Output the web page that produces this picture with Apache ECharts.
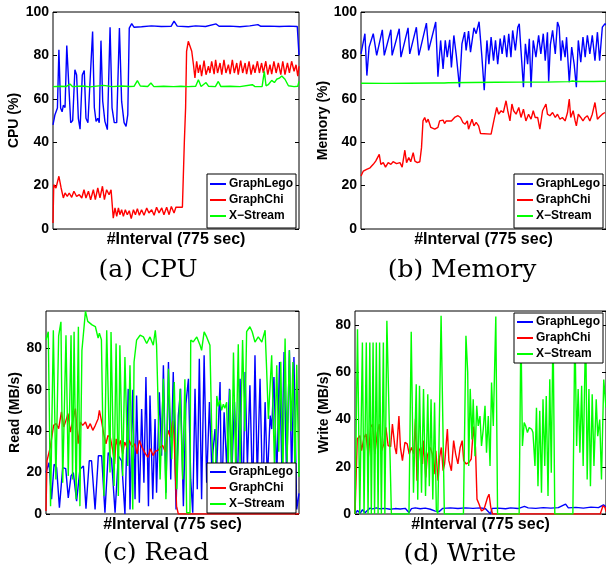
<!DOCTYPE html>
<html>
<head>
<meta charset="utf-8">
<script src="https://cdn.jsdelivr.net/npm/echarts@6/dist/echarts.min.js"></script>
<style>
  html, body { margin: 0; padding: 0; background: #fff; }
  #chart { width: 606px; height: 565px; }
</style>
</head>
<body>
<div id="chart"></div>
<script>
// series names / colours
const names = ['GraphLego', 'GraphChi', 'X\u2212Stream']
const colors = ['#0000ff', '#ff0000', '#00ff00']

// x = position along the run (0..100 % of the 775 sec intervals), y = value
// (a) CPU (%)
const cpuLego = [[0,48],[0.8,52.7],[1.8,55.8],[2.4,82.6],[3.1,55.8],[3.7,54],[4.2,57],[4.9,56],[5.6,84.5],[7.2,49],[8.0,50],[8.9,73.4],[9.6,71],[10.3,51],[11.0,46],[11.9,71],[12.7,73],[13.4,51],[14.2,49],[15.0,49.6],[16.1,91],[16.8,56],[17.5,49.6],[18.2,51],[18.8,49],[19.5,86.8],[20.2,59],[21.1,49.6],[22.1,45.8],[23.2,93],[24.0,55.8],[24.9,49],[25.9,49],[27.0,92.6],[27.9,58.8],[28.9,49],[29.7,47.3],[30.4,52.7],[31.0,92.6],[32.0,94.6],[32.9,93],[36,93.2],[40,93.6],[44,93.3],[48,93.4],[49.2,95.8],[50.5,93.5],[55,93.2],[58,93.6],[62,93.3],[66.3,94.5],[67.5,93.4],[72,93.5],[76,93.2],[80,93.6],[83.3,94.2],[84.5,93.4],[88,93.5],[92,93.3],[96,93.5],[99.3,93.3],[100,80]]
const cpuChi = [[0,2.8],[0.3,20.4],[1.2,18.9],[2.4,24.3],[3.3,18.9],[4.2,14.3],[4.9,16.6],[5.8,15],[6.6,16.6],[7.6,14.6],[8.5,17.4],[9.6,15],[10.7,15.8],[11.7,14.3],[12.6,18.1],[13.4,14.3],[14.4,17.4],[15.3,13.5],[16.4,18.1],[17.2,13.5],[18.2,18.9],[19.1,14.3],[20.1,19.7],[20.9,13.5],[21.8,18.1],[22.8,15.8],[23.6,18.1],[24.5,5],[25.2,9.7],[25.9,5.8],[26.6,9.7],[27.2,6.6],[27.9,8.9],[28.6,5.8],[29.4,8.9],[30.2,6.6],[31.0,8.4],[31.8,4.8],[32.7,8.9],[33.5,6.6],[34.3,9.4],[35.1,6.3],[36.0,8.9],[37.0,6.3],[38.1,9.7],[39.0,7.4],[40.1,8.9],[41.1,6.3],[42.1,10],[43.1,7.4],[44.2,9.7],[45.1,6.6],[46.2,10],[47.2,6.6],[48.1,10.4],[49.2,7.4],[50.0,10.1],[52.6,10],[53.4,40.4],[53.9,55.8],[54.3,81.9],[55.0,86.5],[55.7,87.2],[56.4,81.9],[57.1,75.7],[57.7,69.6],[58.4,77.3],[59.1,71.9],[59.8,75.7],[60.4,70.4],[61.4,77.6],[62.2,71.1],[63.2,75],[63.8,71.9],[64.5,77.3],[65.5,71.4],[66.1,78],[66.9,71.9],[67.9,76.5],[68.6,71.1],[69.5,78],[70.3,71.9],[71.3,75.7],[72.0,71.4],[72.9,78],[73.7,71.9],[74.7,76.5],[75.3,71.1],[76.3,77.6],[77.1,71.9],[78.1,76.5],[78.7,71.4],[79.7,77.3],[80.5,71.1],[81.4,75.7],[82.1,71.9],[83.1,77.3],[83.9,71.9],[84.8,76.5],[85.5,71.9],[86.5,77.3],[87.3,71.1],[88.2,75.7],[88.9,71.4],[89.8,77.3],[90.7,71.9],[91.6,76.5],[92.6,71.1],[93.4,77.3],[94.3,71.1],[95.3,76.5],[96.1,71.9],[97.0,77.3],[98.0,72.7],[98.8,75.7],[99.5,70.4],[100,75]]
const cpuXs = [[0,65.6],[3,65.8],[5.5,65.7],[6.9,66.8],[8,65.6],[12,65.9],[15,65.5],[20.5,66.2],[24,65.6],[28,65.9],[31,65.7],[33,65.8],[34.3,68.4],[35.5,65.9],[38.5,65.7],[39.8,67.3],[41,65.6],[45,65.8],[49,65.6],[52,65.8],[55,65.6],[58,65.8],[59.1,68.8],[60.2,65.7],[62.2,67.5],[63.2,65.8],[66,65.6],[67.2,68],[68.2,65.7],[72,65.8],[76,65.6],[81,66.5],[82,65.7],[85,65.6],[85.9,72.6],[86.6,66],[87.5,66.5],[88.9,68.5],[90,67.5],[90.9,69],[92,69.5],[93,70.5],[94.3,69],[95.7,66],[98,65.6],[99.5,65.8],[100,68]]

// (b) Memory (%)
const memLego = [[0,80.7],[1.6,90],[2.4,70.7],[3.3,83.8],[5.0,90],[6.4,80],[8.7,91.8],[9.5,80],[12.2,91.8],[12.7,80],[15.6,92.3],[16.3,79.2],[19.2,92.7],[19.9,80.7],[22.6,93],[23.6,80],[26.7,94.9],[27.6,82.3],[30.5,95.4],[31.4,70.2],[32.5,86.9],[33.5,73.8],[34.4,86.9],[35.2,79.2],[36.2,87.2],[36.9,74.5],[37.9,89.2],[38.9,80],[40.2,65.3],[41.2,85.3],[42.3,90.7],[42.9,82.3],[43.9,91.2],[44.7,81.5],[46.1,92.7],[47.0,90],[48.2,95.5],[49.3,80],[50.3,64],[51.4,86.9],[52.2,76],[53.1,88.4],[54.1,77.6],[54.9,86.9],[55.8,76],[56.8,87.7],[57.6,80.7],[58.5,89.2],[59.5,79.2],[60.3,90],[61.2,79.2],[61.9,91.5],[63,82.3],[64,93],[64.6,94.6],[65.3,82.3],[66.3,65.3],[67.1,85.3],[68,76],[68.7,87.7],[69.4,65.3],[70.3,86.9],[71.4,79.2],[72.5,89.2],[73.4,80.7],[74.4,90],[75.2,77.6],[76.1,90.7],[76.6,68],[77.3,85],[78.2,91.5],[79.3,80.7],[80.2,95.4],[80.9,93],[81.6,77.6],[82.2,86.9],[83.3,79.2],[83.9,88.4],[85,67.6],[86,83.8],[87,76],[87.9,65.3],[88.7,86.9],[89.7,76.9],[90.6,88.4],[91.5,79.2],[92.4,89.2],[93.4,80.7],[94.4,89.2],[95.5,77.6],[96.5,90.7],[97.4,77.6],[98.5,93],[99.6,94.6],[100,94]]
const memChi = [[0,24.4],[0.95,26.7],[2.3,27.5],[3.7,28.2],[5.0,29.8],[6.0,31.3],[6.8,31.6],[7.45,34.4],[8.1,29.8],[9.1,30.6],[10.0,28.5],[11.1,30.6],[12.2,29.8],[13.1,31],[14.5,30.1],[15.9,30.6],[16.8,28.5],[17.9,36.3],[18.6,30.6],[19.5,32.9],[20.3,31],[21.3,35.2],[22.0,31.3],[23.0,30.6],[24.0,31],[24.7,37.5],[25.3,49.8],[26.0,51.4],[26.7,49.1],[27.4,50.6],[28.5,46.8],[30.1,46],[31.4,46.8],[32.1,49.8],[32.8,49.1],[33.5,50.2],[34.1,48.6],[34.8,49.8],[35.5,49.1],[36.9,49.8],[38.2,51.4],[39.6,52.2],[40.6,51.4],[41.6,49.1],[42.5,48.3],[43.4,49.8],[43.9,46],[44.7,45.2],[45.3,50.6],[46.1,47.5],[47.0,49.1],[48.0,47.5],[48.8,44],[53.1,43.7],[54.5,51.4],[55.4,56],[56.2,52.9],[57.2,54.5],[58.1,53.7],[59.2,59.1],[59.9,54.5],[60.8,49.8],[61.6,57.6],[62.3,54.5],[63.3,52.9],[64.4,56],[65.3,51.4],[66.3,55.2],[67.3,49.8],[68.4,52.9],[69.4,50.6],[70.3,54.5],[71.1,51.4],[72.1,51.4],[73.0,46],[74.1,54.5],[75.5,57.6],[76.1,52.9],[77.1,52.2],[78.2,53.7],[79.3,51.4],[80.2,52.9],[81.2,50.6],[82.2,51.4],[83.3,49.8],[84.3,53.7],[85.0,59.9],[85.6,51.4],[86.6,54.5],[87.4,49.8],[87.9,47.5],[88.7,52.9],[89.7,51.4],[90.6,49.8],[91.5,51.4],[92.4,52.2],[93.4,49.8],[94.4,52.9],[95.5,58.3],[96.5,50.6],[97.4,51.7],[98.5,52.9],[99.6,53.7]]
const memXs = [[0,67.2],[10,67.1],[20,67.2],[30,67.3],[34,67.3],[34.8,68],[35.6,67.4],[45,67.5],[55,67.6],[65,67.7],[75,67.7],[85,67.9],[86.3,68.2],[87,69],[87.8,68],[95,68],[100,68.1]]

// (c) Read (MB/s)
const readLego = [[0,20],[1.2,24.8],[2.2,7.1],[3.2,24],[4.2,22.4],[5.3,3],[6.6,22.4],[7.8,21.9],[8.8,7.8],[9.9,18.4],[10.8,20],[12.1,6.2],[13.4,21.6],[14.8,23.2],[15.8,2.5],[17.1,25.7],[18.0,25.7],[19.4,2.2],[20.7,28.1],[22.0,28.1],[23.3,0.6],[24.6,29.7],[25.9,26.5],[27.3,0.6],[28.6,28.1],[29.9,25.7],[31.2,0],[32.5,60.4],[33.2,2.2],[34.3,60],[35.2,7.1],[35.8,57.2],[36.9,5.4],[37.8,50.7],[38.7,15.1],[39.5,66.1],[40.5,3.8],[41.1,57.2],[42.2,7.1],[43.1,45.9],[43.7,10.3],[44.8,58.8],[45.7,28.1],[46.4,71.8],[47.4,10.3],[48.4,73.4],[49.3,16.7],[50.3,68.5],[51.4,2.2],[52.3,47.5],[53.2,60.4],[54.3,3.8],[55.3,53.2],[56.3,65.3],[57.2,16.7],[58.0,0.6],[58.9,60.4],[59.8,11.9],[60.6,75],[61.5,7.1],[62.5,76.6],[63.5,15.1],[64.6,54],[65.5,23.2],[66.8,41],[67.5,23.2],[68.8,63.7],[69.4,2.2],[70.4,49.1],[71.4,23.2],[72.5,60.4],[73.4,18.4],[74.5,54],[75.6,11.9],[76.7,65.3],[77.8,0.6],[78.7,68.5],[79.6,23.2],[80.6,62.1],[81.7,7.1],[82.6,76.6],[83.5,16.7],[84.6,65.3],[85.7,3.8],[86.6,54],[87.5,16.7],[88.6,47.5],[89.2,41],[90.1,66.1],[91.2,16.7],[92.3,73.4],[93.2,23.2],[94.1,78.2],[95.1,16.7],[96.2,79],[97.1,16.7],[98.0,75.8],[99.1,2.2],[100,10]]
const readChi = [[0,1.5],[0.4,25.8],[1.7,32.3],[3.0,42.8],[4.0,43.6],[5.0,41.2],[6.1,49.3],[7.0,42],[7.9,45.2],[8.7,48.5],[9.6,39.6],[10.5,44.4],[11.6,50.9],[12.7,33.9],[13.6,44.4],[14.5,42.8],[15.6,44.4],[16.5,41.2],[17.5,43.6],[18.5,40.4],[19.5,42.8],[20.6,46],[21.1,50],[21.9,45.2],[22.8,38.8],[23.7,33.9],[24.5,37.9],[25.4,37.1],[26.4,30.7],[27.1,24.2],[27.7,36.3],[28.5,32.3],[29.4,35.5],[30.3,29],[31.1,34.7],[32.0,32.3],[32.9,35.5],[34.0,32.3],[35.1,33.9],[36.0,29],[36.9,35.5],[37.9,32.3],[39.3,29],[40.3,27.4],[41.3,31.5],[42.3,28.2],[43.2,30.3],[44.3,30.7],[45.2,32.3],[46.1,33.1],[47.2,29.9],[48.2,40.4],[49.2,37],[50.1,45],[50.6,38],[51.6,3.8],[52.3,0],[100,0]]
const readXs = [[0,84],[0.9,88],[1.8,3.8],[2.9,88.7],[3.9,16.7],[5.0,86],[5.9,92.8],[6.6,15.1],[7.9,86.3],[8.8,18.4],[9.9,86.3],[10.5,16.7],[11.1,88],[11.9,7.1],[12.8,90.4],[13.4,3.8],[14.2,79],[15.6,97.9],[16.5,93],[18.2,91.3],[19.5,90.5],[20.6,84.9],[21.1,87.3],[21.9,84.1],[22.9,8.7],[24.0,88.7],[25.3,20],[25.7,87.9],[26.9,13.5],[27.7,82.3],[28.6,8.7],[29.2,81.5],[30.3,18.4],[31.2,75.8],[32.3,23.2],[33.2,71.8],[34.3,2.2],[34.8,73.4],[35.8,83.9],[37.2,86.3],[38.5,85.5],[39.8,82.3],[41.1,85.5],[42.4,81.5],[43.2,88.7],[43.7,81.5],[45.1,16.7],[46.4,65.3],[47.4,7.1],[48.4,70.1],[49.7,26.5],[50.7,63.7],[51.7,11.9],[53.0,60.4],[54.0,16.7],[54.9,65],[55.6,0.6],[56.9,0.6],[57.2,83.9],[58.2,83.1],[59.6,85.5],[60.9,81.5],[61.5,79],[62.5,87.9],[63.5,85.5],[64.8,81.5],[65.5,40],[66.2,20],[66.8,3],[67.5,57],[68.1,52],[68.8,55],[69.4,50],[70.1,53],[70.7,51],[71.4,54],[72.0,20],[72.7,60],[73.4,16.7],[74.1,78],[75.0,20],[76.0,82],[76.7,23],[77.7,84],[78.6,40],[79.3,88],[80.6,90.4],[81.5,88],[82.6,83],[83.9,85.5],[85.3,83],[86.6,88.7],[87.2,70],[87.9,45.9],[89.2,76.6],[90.3,23.2],[91.2,71.8],[92.0,30],[92.8,73.5],[93.6,16.7],[94.5,84.7],[95.3,25],[96.2,79],[96.9,40],[97.6,73.4],[98.4,18.4],[99.1,72],[100,18]]

// (d) Write (MB/s)
const writeLego = [[0,0],[1,1.5],[2,0.3],[3,1.8],[4,0.5],[5,1.6],[6,2.5],[7,2.2],[8.5,2.6],[10,2.2],[12,2.4],[14,2.0],[16,2.3],[18,2.1],[20,2.4],[21.5,0.6],[22.5,2.3],[24,2.6],[26,2.2],[28,2.5],[30,2.0],[32,1.2],[33.5,1.0],[35,2.4],[38,2.6],[41,2.3],[44,2.6],[47,2.4],[50,2.6],[52,2.2],[54,0],[54.6,2.4],[57,2.5],[60,2.2],[62,2.6],[65,2.3],[67.5,3.2],[69,2.6],[72,2.4],[75,2.7],[78,2.5],[81,2.7],[83.9,4.2],[85,2.6],[88,2.8],[91,2.5],[94,2.9],[97,2.7],[99,3.9],[100,3.0]]
const writeChi = [[0,0],[0.9,31.8],[2.0,33.2],[2.6,26.8],[3.6,32.5],[4.4,33.9],[5.3,24],[6.2,36.7],[7.0,38.1],[7.9,25.4],[8.9,34.6],[9.7,38.1],[10.6,26.8],[11.5,29.7],[12.3,36.7],[13.2,29],[14.2,28.5],[14.9,38.1],[15.9,28.2],[16.5,25.4],[17.5,41.5],[18.1,28.2],[18.9,22.6],[19.9,30.4],[20.8,29.7],[21.6,25.4],[22.5,28.2],[23.4,25.4],[24.1,40.3],[24.7,14.1],[25.5,26.8],[26.2,28.2],[26.9,21.2],[27.4,31.1],[28.2,15.5],[28.8,24.7],[29.5,24.7],[30.0,28.2],[30.8,25.4],[31.5,16.9],[32.2,26.8],[33.1,14.1],[33.7,24],[34.4,28.2],[35.1,18.3],[35.7,21.2],[36.8,36],[37.4,22.6],[38.4,18.3],[39.3,31.1],[40.1,25.4],[41.0,21.2],[41.9,28.2],[42.7,31.1],[43.3,22.6],[44.3,21.2],[45.4,21.9],[46.3,23.3],[47.2,37],[48.0,28.2],[48.6,6.3],[49.4,4.2],[50.4,1.3],[51.4,2],[52.8,7],[53.4,8.4],[54.1,2.8],[54.8,0],[97.7,0],[98.8,3.5],[99.6,2.8],[100,1]]
const writeXs = [[0,0],[1.0,78.3],[1.9,0],[2.95,72.7],[3.6,0],[4.5,72.7],[5.2,0],[5.9,72.7],[6.5,0],[7.2,72.7],[7.8,0],[8.5,72.7],[9.2,0],[9.8,72.7],[10.5,0],[11.3,72.7],[11.9,0],[12.7,81.9],[14.5,0],[21.5,0],[22.4,77.2],[23.3,9],[24.4,55],[25.0,6],[25.7,54.3],[26.5,9],[27.3,52.9],[28.1,7.6],[29.0,50.7],[29.6,11.8],[30.3,48.6],[31.0,6.2],[31.7,47.2],[32.4,1.9],[33.0,0],[33.6,0],[34.3,84],[35.6,0],[43.2,0],[44.2,75.5],[44.9,60],[45.3,20.3],[45.9,53],[46.6,31.6],[47.1,48.6],[47.8,24.5],[48.5,45.8],[49.1,37.3],[49.8,41.5],[50.4,28.8],[51.1,35.9],[51.8,45.8],[52.4,26],[53.1,41.5],[53.8,20.3],[54.4,55.7],[55.1,37.3],[56.1,83.7],[56.8,0],[65.4,0],[66.1,80],[66.7,28.8],[67.4,38.7],[68,37.3],[68.7,34.5],[69.4,36.6],[70.4,35.9],[70.9,34.5],[71.7,20.3],[72.3,45],[72.9,11.8],[73.6,43.7],[74.3,9],[74.9,48.6],[75.6,20.3],[76.2,50],[76.9,7.6],[77.6,57.1],[78.2,17.5],[78.9,80],[79.6,0],[86.8,0],[87.6,80],[88.3,28.8],[88.9,52.9],[89.6,26],[90.3,54.3],[90.9,20.3],[91.9,80],[92.5,14.6],[93.2,52.9],[93.8,11.8],[94.5,50.7],[95.2,20.3],[96.1,48.6],[96.7,33],[97.5,40],[98.2,14.6],[99.1,57],[100,45]]

// one entry per subplot
const panels = [
  { box: [53, 12, 246, 217], yMax: 100, yName: 'CPU (%)', yGap: 32, cap: '(a) CPU', capAt: [148, 270],
    legendAt: [207, 174, 1], series: [cpuLego, cpuChi, cpuXs] },
  { box: [361, 12, 246, 217], yMax: 100, yName: 'Memory (%)', yGap: 31, cap: '(b) Memory', capAt: [462, 270],
    legendAt: [514, 174, 1], series: [memLego, memChi, memXs] },
  { box: [46, 311, 253, 203], yMax: 98, yName: 'Read (MB/s)', yGap: 22, cap: '(c) Read', capAt: [156, 553],
    legendAt: [207, 463, 0], series: [readLego, readChi, readXs] },
  { box: [355, 311, 252, 203], yMax: 86, yName: 'Write (MB/s)', yGap: 23, cap: '(d) Write', capAt: [460, 554],
    legendAt: [514, 313, 0], series: [writeLego, writeChi, writeXs] }
]

const FONT = '"Liberation Sans", Arial, sans-serif'
const grid = [], xAxis = [], yAxis = [], series = [], legend = [], graphic = []

panels.forEach((p, i) => {
  const [l, t, w, h] = p.box
  grid.push({ left: l, top: t, width: w, height: h, show: true,
    borderColor: '#000', borderWidth: 1, backgroundColor: '#fff' })

  xAxis.push({
    gridIndex: i, type: 'value', min: 0, max: 100,
    axisLine: { show: false }, axisTick: { show: false },
    axisLabel: { show: false }, splitLine: { show: false },
    name: '#Interval (775 sec)', nameLocation: 'middle', nameGap: 3,
    nameTextStyle: { fontFamily: FONT, fontWeight: 'bold', fontSize: 16, color: '#000', verticalAlign: 'top' }
  })

  const yBase = {
    gridIndex: i, type: 'value', min: 0, max: p.yMax, interval: 20,
    splitLine: { show: false },
    axisLine: { show: false },
    axisTick: { show: true, inside: true, length: 4, lineStyle: { color: '#000' } }
  }
  yAxis.push(Object.assign({}, yBase, {
    position: 'left',
    axisLabel: { show: true, margin: 4, showMaxLabel: p.yMax % 20 === 0,
      fontFamily: FONT, fontWeight: 'bold', fontSize: 14, color: '#000' },
    name: p.yName, nameLocation: 'middle', nameGap: p.yGap,
    nameTextStyle: { fontFamily: FONT, fontWeight: 'bold', fontSize: 14, color: '#000' }
  }))
  yAxis.push(Object.assign({}, yBase, { position: 'right', axisLabel: { show: false } }))

  p.series.forEach((d, k) => {
    series.push({
      type: 'line', name: names[k], data: d,
      xAxisIndex: i, yAxisIndex: i * 2,
      symbol: 'none', showSymbol: false, animation: false,
      color: colors[k],
      lineStyle: { width: 1.4, color: colors[k] }
    })
  })

  legend.push({
    data: names, orient: 'vertical', left: p.legendAt[0], top: p.legendAt[1],
    icon: 'rect', itemWidth: 16, itemHeight: 2, itemGap: 4,
    padding: p.legendAt[2] ? [4, 3, 6, 3] : [3, 3, 3, 3],
    backgroundColor: '#fff', borderColor: '#000', borderWidth: 1,
    selectedMode: false,
    textStyle: { fontFamily: FONT, fontWeight: 'bold', fontSize: 12, lineHeight: 12, color: '#000', padding: [0, 0, 0, -2] }
  })

  graphic.push({
    type: 'text', x: p.capAt[0], y: p.capAt[1],
    style: { text: p.cap, fill: '#000', font: '25px "DejaVu Serif", serif',
      align: 'center', verticalAlign: 'middle' }
  })
})

const chart = echarts.init(document.getElementById('chart'), null, { renderer: 'canvas' })
chart.setOption({
  backgroundColor: '#fff',
  animation: false,
  grid, xAxis, yAxis, series, legend, graphic
})
</script>
</body>
</html>
